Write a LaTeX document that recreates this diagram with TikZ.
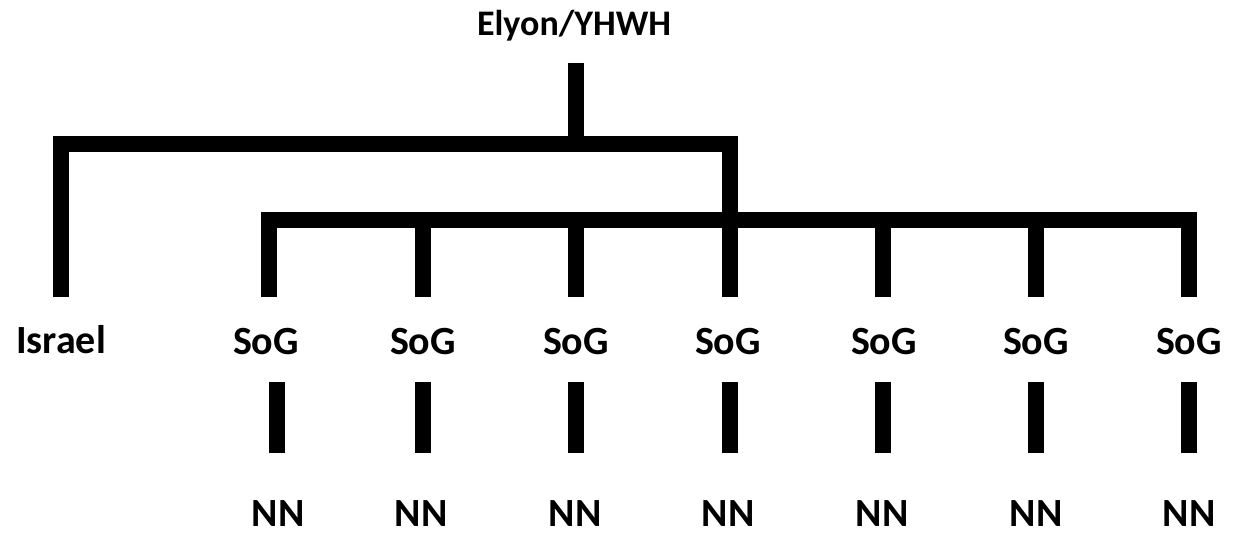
\documentclass[tikz,border=0pt]{standalone}
\usepackage{fontspec}
\setmainfont{Carlito}
\begin{document}
\begin{tikzpicture}[x=1pt,y=-1pt,
  lbl/.style={anchor=base,inner sep=0pt,text depth=0pt,font=\fontsize{40}{48}\selectfont\bfseries},
  toplbl/.style={anchor=base,inner sep=0pt,font=\fontsize{36}{42}\selectfont\bfseries},
  bar/.style={line width=16pt,line join=miter,line cap=butt}]
\useasboundingbox (0,0) rectangle (1238,534);
% text nodes
\node[toplbl] (top) at (574,36) {Elyon/YHWH};
\node[lbl] (israel) at (61,353) {Israel};
\foreach \i/\x in {1/266,2/423,3/576,4/728,5/884,6/1036,7/1189}{
  \node[lbl] (sog\i) at (\x,354) {SoG};
}
\foreach \i/\x in {1/278,2/421,3/575,4/728,5/882,6/1036,7/1189}{
  \node[lbl] (nn\i) at (\x,526) {NN};
}
% junction coordinates
\coordinate (stemtop) at (576,63);
\coordinate (stemjoin) at (576,144);
\coordinate (ul) at (61,144);
\coordinate (ur) at (730,144);
\coordinate (israeltop) at (61,297);
\coordinate (ursog) at (730,297);
\foreach \i/\x in {1/269,2/423,3/576,4/730,5/883,6/1036,7/1189}{
  \coordinate (lb\i) at (\x,220);
  \coordinate (sogtop\i) at (\x,297);
}
\foreach \i/\x in {1/277,2/423,3/576,4/730,5/883,6/1036,7/1189}{
  \coordinate (sdtop\i) at (\x,382);
  \coordinate (sdbot\i) at (\x,453);
}
% connectors
\draw[bar] (stemtop) -- (stemjoin);
\draw[bar] (israeltop) -- (ul) -- (ur) -- (ursog);
\draw[bar] (sogtop1) -- (lb1) -- (lb7) -- (sogtop7);
\foreach \i in {2,3,5,6}{
  \draw[bar] (lb\i) -- (sogtop\i);
}
\foreach \i in {1,...,7}{
  \draw[bar] (sdtop\i) -- (sdbot\i);
}
\end{tikzpicture}
\end{document}
